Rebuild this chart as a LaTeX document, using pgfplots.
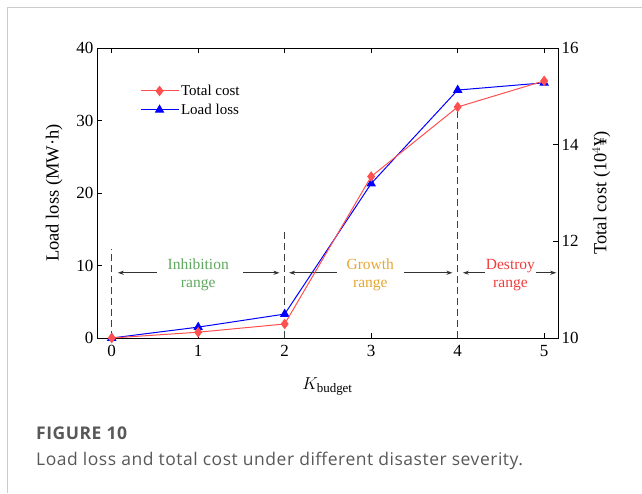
\documentclass[border=0pt]{standalone}
\usepackage{pgfplots}
\pgfplotsset{compat=1.18}
\usepackage{fontspec}
\setmainfont{Liberation Serif}
\newfontfamily\capfont[LetterSpace=3.0]{Open Sans}
\usetikzlibrary{arrows.meta}
\definecolor{lred}{HTML}{FF5050}
\definecolor{lblue}{HTML}{0000FF}
\definecolor{ggreen}{HTML}{5FA85F}
\definecolor{gold}{HTML}{E6A532}
\definecolor{dred}{HTML}{F23C3C}
\definecolor{capgray}{HTML}{585858}
\pgfplotsset{
  common/.style={
    at={(97pt,155pt)}, anchor=south west, scale only axis,
    width=461pt, height=290pt,
    xmin=-0.17, xmax=5.16,
    tick align=inside, major tick length=5pt,
    tick style={black, line width=0.8pt},
    axis line style={black, line width=0.8pt},
    /pgf/number format/assume math mode=true,
    tick label style={font=\fontsize{17}{17}\selectfont},
    label style={font=\fontsize{18.5}{18.5}\selectfont},
    clip=false,
  }
}
\begin{document}
\begin{tikzpicture}
\useasboundingbox (0pt,0pt) rectangle (642pt,493pt);
\draw[black!20, line width=1pt] (7pt,0pt) -- (7pt,485pt) -- (642pt,485pt);
\begin{axis}[common,
  ymin=0, ymax=40,
  xtick={0,1,2,3,4,5}, xtick pos=both,
  ytick={0,10,20,30,40}, ytick pos=left,
  xlabel={$K_{\mathrm{budget}}$},
  ylabel={Load loss (MW·h)},
  xlabel style={yshift=-14pt},
  ylabel style={yshift=7pt},
  xticklabel style={yshift=-4pt},
  legend style={at={(0.093,0.88)}, anchor=north west, draw=none, fill=none,
    font=\fontsize{15}{19}\selectfont, row sep=3pt, inner sep=0pt},
  legend cell align=left,
  legend image code/.code={\draw[mark repeat=2,mark phase=2] plot coordinates {(0pt,0pt) (19pt,0pt) (38pt,0pt)};},
]
\addlegendimage{lred, line width=1pt, mark=diamond*, mark size=4.5pt, mark options={fill=lred, draw=lred}}
\addlegendentry{Total cost}
\addplot[lblue, line width=1pt, mark=triangle*, mark size=4.5pt, mark options={fill=lblue}]
  coordinates {(0,0) (1,1.5) (2,3.3) (3,21.3) (4,34.2) (5,35.2)};
\addlegendentry{Load loss}
\draw[black!75, line width=1pt, dash pattern=on 7pt off 4pt] (axis cs:0,0) -- (axis cs:0,12.3);
\draw[black!75, line width=1pt, dash pattern=on 7pt off 4pt] (axis cs:2,0) -- (axis cs:2,14.9);
\draw[black!75, line width=1pt, dash pattern=on 7pt off 4pt] (axis cs:4,0) -- (axis cs:4,31.4);
\draw[black!80, line width=0.8pt, -{Stealth[length=6pt,width=4pt]}] (axis cs:0.52,9) -- (axis cs:0.07,9);
\draw[black!80, line width=0.8pt, -{Stealth[length=6pt,width=4pt]}] (axis cs:1.52,9) -- (axis cs:1.94,9);
\draw[black!80, line width=0.8pt, -{Stealth[length=6pt,width=4pt]}] (axis cs:2.60,9) -- (axis cs:2.05,9);
\draw[black!80, line width=0.8pt, -{Stealth[length=6pt,width=4pt]}] (axis cs:3.38,9) -- (axis cs:3.94,9);
\draw[black!80, line width=0.8pt, -{Stealth[length=6pt,width=4pt]}] (axis cs:4.32,9) -- (axis cs:4.06,9);
\draw[black!80, line width=0.8pt, -{Stealth[length=6pt,width=4pt]}] (axis cs:4.90,9) -- (axis cs:5.14,9);
\node[align=center, text=ggreen, font=\fontsize{15.5}{18}\selectfont] at (axis cs:1,8.7) {Inhibition\\range};
\node[align=center, text=gold, font=\fontsize{15.5}{18}\selectfont] at (axis cs:2.99,8.7) {Growth\\range};
\node[align=center, text=dred, font=\fontsize{15.5}{18}\selectfont] at (axis cs:4.61,8.7) {Destroy\\range};
\end{axis}
\begin{axis}[common,
  ymin=10, ymax=16,
  axis x line=none, axis y line*=right,
  ytick={10,12,14,16},
  ylabel={Total cost (10$^{4}$¥)},
  ylabel style={yshift=-7pt},
]
\addplot[lred, line width=1pt, mark=diamond*, mark size=4.5pt, mark options={fill=lred, draw=lred}]
  coordinates {(0,10.0) (1,10.12) (2,10.29) (3,13.34) (4,14.78) (5,15.32)};
\end{axis}
\node[anchor=base west, inner sep=0, text=capgray, font=\capfont\bfseries\fontsize{17.5}{17.5}\selectfont] at (36pt,54pt) {FIGURE 10};
\node[anchor=base west, inner sep=0, text=capgray, font=\capfont\fontsize{17.5}{17.5}\selectfont] at (36pt,28pt) {Load loss and total cost under different disaster severity.};
\end{tikzpicture}
\end{document}
